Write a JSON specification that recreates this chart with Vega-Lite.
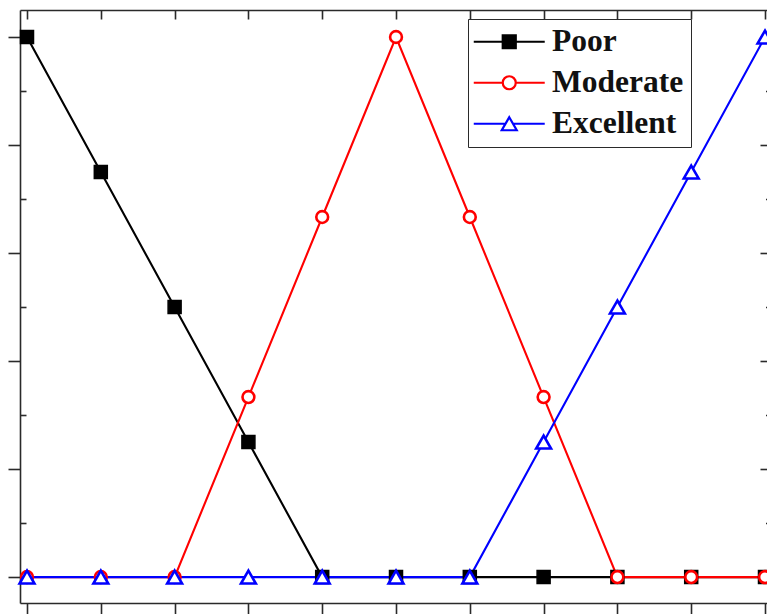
{
  "$schema": "https://vega.github.io/schema/vega-lite/v6.json",
  "width": 747,
  "height": 593,
  "autosize": {"type": "none"},
  "padding": {"left": 20, "top": 10, "right": 0, "bottom": 11},
  "background": "white",
  "config": {
    "view": {"stroke": null},
    "axis": {
      "grid": false,
      "labels": false,
      "title": null,
      "domainColor": "#2a2a2a",
      "tickColor": "#2a2a2a",
      "domainWidth": 1.6,
      "tickWidth": 1.6
    }
  },
  "data": {
    "values": [
      {"series": "Poor", "x": 0, "y": 1},
      {"series": "Poor", "x": 1, "y": 0.75},
      {"series": "Poor", "x": 2, "y": 0.5},
      {"series": "Poor", "x": 3, "y": 0.25},
      {"series": "Poor", "x": 4, "y": 0},
      {"series": "Poor", "x": 5, "y": 0},
      {"series": "Poor", "x": 6, "y": 0},
      {"series": "Poor", "x": 7, "y": 0},
      {"series": "Poor", "x": 8, "y": 0},
      {"series": "Poor", "x": 9, "y": 0},
      {"series": "Poor", "x": 10, "y": 0},
      {"series": "Moderate", "x": 0, "y": 0},
      {"series": "Moderate", "x": 1, "y": 0},
      {"series": "Moderate", "x": 2, "y": 0},
      {"series": "Moderate", "x": 3, "y": 0.3333},
      {"series": "Moderate", "x": 4, "y": 0.6667},
      {"series": "Moderate", "x": 5, "y": 1},
      {"series": "Moderate", "x": 6, "y": 0.6667},
      {"series": "Moderate", "x": 7, "y": 0.3333},
      {"series": "Moderate", "x": 8, "y": 0},
      {"series": "Moderate", "x": 9, "y": 0},
      {"series": "Moderate", "x": 10, "y": 0},
      {"series": "Excellent", "x": 0, "y": 0},
      {"series": "Excellent", "x": 1, "y": 0},
      {"series": "Excellent", "x": 2, "y": 0},
      {"series": "Excellent", "x": 3, "y": 0},
      {"series": "Excellent", "x": 4, "y": 0},
      {"series": "Excellent", "x": 5, "y": 0},
      {"series": "Excellent", "x": 6, "y": 0},
      {"series": "Excellent", "x": 7, "y": 0.25},
      {"series": "Excellent", "x": 8, "y": 0.5},
      {"series": "Excellent", "x": 9, "y": 0.75},
      {"series": "Excellent", "x": 10, "y": 1}
    ]
  },
  "layer": [
    {
      "encoding": {
        "x": {
          "field": "x", "type": "quantitative",
          "scale": {"domain": [-0.095, 10.027], "nice": false, "zero": false},
          "axis": {"orient": "bottom", "values": [0, 1, 2, 3, 4, 5, 6, 7, 8, 9, 10], "tickSize": 11}
        },
        "y": {
          "field": "y", "type": "quantitative",
          "scale": {"domain": [-0.048, 1.05], "nice": false, "zero": false},
          "axis": {
            "orient": "left",
            "values": [0, 0.1, 0.2, 0.3, 0.4, 0.5, 0.6, 0.7, 0.8, 0.9, 1],
            "tickSize": {"condition": {"test": "round(datum.value * 10) % 2 === 0", "value": 12}, "value": -6}
          }
        }
      },
      "layer": [
        {
          "transform": [{"filter": "datum.series === 'Poor'"}],
          "mark": {"type": "line", "strokeWidth": 2.1},
          "encoding": {
            "color": {
              "field": "series", "type": "nominal",
              "scale": {"domain": ["Poor", "Moderate", "Excellent"], "range": ["#000000", "#ff0000", "#0000ff"]},
              "legend": {
                "orient": "none",
                "legendX": 448,
                "legendY": 9,
                "title": null,
                "padding": 7,
                "strokeColor": "#2a2a2a",
                "fillColor": "white",
                "symbolSize": 196,
                "symbolStrokeWidth": 2.2,
                "symbolOffset": 18.5,
                "labelOffset": 27,
                "rowPadding": 8,
                "labelFont": "Liberation Serif",
                "labelFontWeight": "bold",
                "labelFontSize": 31.5,
                "labelColor": "#111111",
                "labelLimit": 400,
                "encode": {
                  "symbols": {
                    "update": {
                      "shape": {"signal": "datum.value === 'Poor' ? 'M-5.07,0H-0.93M0.93,0H5.07M-0.93,-0.93H0.93V0.93H-0.93Z' : datum.value === 'Moderate' ? 'M-5.07,0H-0.93M0.93,0H5.07M0.93,0A0.93,0.93 0 1,1 -0.93,0A0.93,0.93 0 1,1 0.93,0Z' : 'M-5.07,0H-0.55M0.55,0H5.07M0,-0.93L1.07,0.93H-1.07Z'"},
                      "fill": {"signal": "datum.value === 'Poor' ? '#000000' : '#ffffff'"},
                      "fillOpacity": {"value": 1},
                      "stroke": {"signal": "datum.value === 'Poor' ? '#000000' : datum.value === 'Moderate' ? '#ff0000' : '#0000ff'"}
                    }
                  }
                }
              }
            }
          }
        },
        {
          "transform": [{"filter": "datum.series === 'Moderate'"}],
          "mark": {"type": "line", "strokeWidth": 2.1},
          "encoding": {"color": {"field": "series", "type": "nominal"}}
        },
        {
          "transform": [{"filter": "datum.series === 'Excellent'"}],
          "mark": {"type": "line", "strokeWidth": 2.1},
          "encoding": {"color": {"field": "series", "type": "nominal"}}
        },
        {
          "transform": [{"filter": "datum.series === 'Poor'"}],
          "mark": {"type": "point", "shape": "square", "size": 169, "filled": true, "fill": "#000000", "stroke": "#000000", "strokeWidth": 1.5, "opacity": 1}
        },
        {
          "transform": [{"filter": "datum.series === 'Moderate'"}],
          "mark": {"type": "point", "shape": "circle", "size": 140, "filled": false, "fill": "#ffffff", "fillOpacity": 1, "stroke": "#ff0000", "strokeWidth": 2.6, "opacity": 1}
        },
        {
          "transform": [{"filter": "datum.series === 'Excellent'"}],
          "mark": {"type": "point", "shape": "triangle-up", "size": 220, "filled": false, "fill": "#ffffff", "fillOpacity": 1, "stroke": "#0000ff", "strokeWidth": 2.6, "opacity": 1}
        }
      ]
    },
    {
      "mark": {"type": "point", "opacity": 0},
      "encoding": {
        "x": {
          "field": "x", "type": "quantitative",
          "axis": {"orient": "top", "values": [0, 1, 2, 3, 4, 5, 6, 7, 8, 9, 10], "tickSize": -9}
        },
        "y": {
          "field": "y", "type": "quantitative",
          "axis": {
            "orient": "right",
            "domain": false,
            "values": [0, 0.1, 0.2, 0.3, 0.4, 0.5, 0.6, 0.7, 0.8, 0.9, 1],
            "tickSize": {"condition": {"test": "round(datum.value * 10) % 2 === 0", "value": -7}, "value": -1.5}
          }
        }
      }
    }
  ],
  "resolve": {"axis": {"x": "independent", "y": "independent"}}
}
